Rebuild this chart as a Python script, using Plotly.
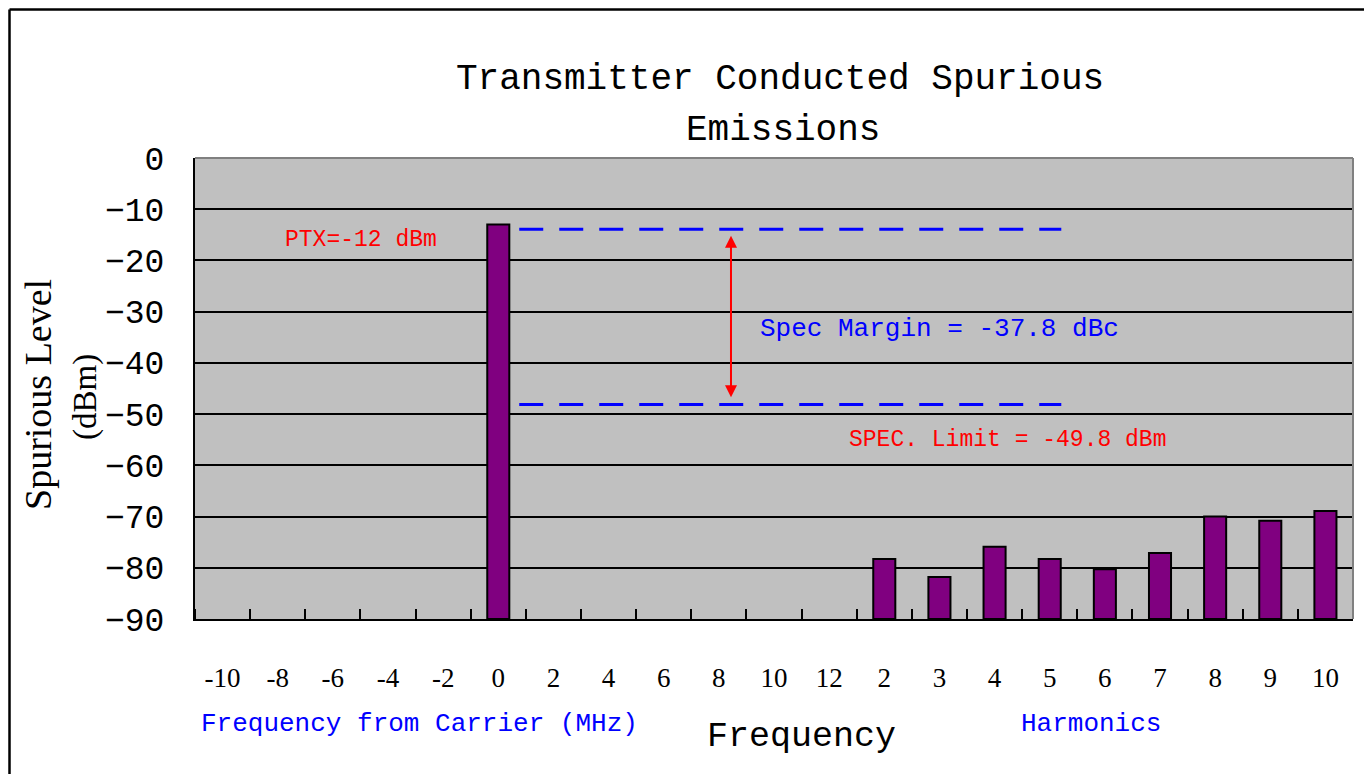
import plotly.graph_objects as go

# ---- data ----
tick_labels = ["-10", "-8", "-6", "-4", "-2", "0", "2", "4", "6", "8", "10", "12",
               "2", "3", "4", "5", "6", "7", "8", "9", "10"]
spur_dbm = [None, None, None, None, None, -13.0, None, None, None, None, None, None,
            -78.3, -81.8, -75.9, -78.3, -80.3, -77.1, -70.0, -70.8, -68.9]
y_ticks = [0, -10, -20, -30, -40, -50, -60, -70, -80, -90]
Y_MIN, Y_MAX = -90, 0
carrier_level = -13.9      # upper dashed reference line
spec_limit_line = -48.1    # lower dashed reference line

x_idx = list(range(len(tick_labels)))
heights = [None if v is None else v - Y_MIN for v in spur_dbm]

MONO = "Liberation Mono"
SERIF = "Liberation Serif"

# page offset of the figure (default body margin) compensated in margins
OFF = 8
PL, PR, PT, PB = 195, 1353, 158, 619   # plot area in page pixels
PW, PH = PR - PL, PB - PT

def px(x):
    return (x - PL) / PW

def py(y):
    return (PB - y) / PH

fig = go.Figure()
fig.add_trace(go.Bar(
    x=x_idx, y=heights, base=Y_MIN, width=0.4,
    marker=dict(color="#800080", line=dict(color="black", width=2)),
    showlegend=False, hoverinfo="skip",
))

# dashed reference lines
for lvl in (carrier_level, spec_limit_line):
    fig.add_trace(go.Scatter(
        x=[5.38, 15.21], y=[lvl, lvl], mode="lines",
        line=dict(color="#0000FF", width=3, dash="24px,16px"),
        showlegend=False, hoverinfo="skip",
    ))

B = OFF + 1.5
shapes = [
    dict(type="line", xref="paper", yref="paper", x0=0, x1=1, y0=1, y1=1,
         line=dict(color="#808080", width=2), layer="above"),
    dict(type="line", xref="paper", yref="paper", x0=1, x1=1, y0=0, y1=1,
         line=dict(color="#808080", width=2), layer="above"),
    # outer chart frame (left and top edges visible)
    dict(type="line", xref="paper", yref="paper", x0=px(B), x1=px(B), y0=py(B), y1=py(800),
         line=dict(color="black", width=2.5), layer="above"),
    dict(type="line", xref="paper", yref="paper", x0=px(B), x1=px(1380), y0=py(B), y1=py(B),
         line=dict(color="black", width=2.5), layer="above"),
]

annotations = [
    dict(text="Transmitter Conducted Spurious", xref="paper", yref="paper", x=px(780), y=py(80),
         showarrow=False, font=dict(family=MONO, size=36, color="black"), xanchor="center", yanchor="middle"),
    dict(text="Emissions", xref="paper", yref="paper", x=px(783), y=py(131),
         showarrow=False, font=dict(family=MONO, size=36, color="black"), xanchor="center", yanchor="middle"),
    dict(text="Spurious Level", xref="paper", yref="paper", x=px(38), y=py(395),
         textangle=-90, showarrow=False, font=dict(family=SERIF, size=38, color="black"),
         xanchor="center", yanchor="middle"),
    dict(text="(dBm)", xref="paper", yref="paper", x=px(85), y=py(397),
         textangle=-90, showarrow=False, font=dict(family=SERIF, size=33, color="black"),
         xanchor="center", yanchor="middle"),
    dict(text="Frequency", xref="paper", yref="paper", x=px(801), y=py(737),
         showarrow=False, font=dict(family=MONO, size=35, color="black"), xanchor="center", yanchor="middle"),
    dict(text="Frequency from Carrier (MHz)", xref="paper", yref="paper", x=px(419), y=py(724),
         showarrow=False, font=dict(family=MONO, size=26, color="#0000FF"), xanchor="center", yanchor="middle"),
    dict(text="Harmonics", xref="paper", yref="paper", x=px(1091), y=py(724),
         showarrow=False, font=dict(family=MONO, size=26, color="#0000FF"), xanchor="center", yanchor="middle"),
    dict(text="PTX=-12 dBm", x=2.51, y=-16.0, showarrow=False,
         font=dict(family=MONO, size=23, color="#FF0000"), xanchor="center", yanchor="middle"),
    dict(text="Spec Margin = -37.8 dBc", x=13.0, y=-33.4, showarrow=False,
         font=dict(family=MONO, size=26, color="#0000FF"), xanchor="center", yanchor="middle"),
    dict(text="SPEC. Limit = -49.8 dBm", x=14.24, y=-55.1, showarrow=False,
         font=dict(family=MONO, size=23, color="#FF0000"), xanchor="center", yanchor="middle"),
    dict(x=9.22, y=-15.2, ax=9.22, ay=-47.0, xref="x", yref="y", axref="x", ayref="y",
         text="", showarrow=True, arrowhead=2, startarrowhead=2, arrowside="end+start",
         arrowsize=1.2, arrowwidth=2, arrowcolor="#FF0000"),
]

# figure sized so the page (with its 8px body margin) does not overflow the window
W, H = 1372 - 2 * OFF, 782 - 2 * OFF
fig.update_layout(
    width=W, height=H,
    margin=dict(l=PL - OFF, r=W - (PR - OFF), t=PT - OFF, b=H - (PB - OFF), pad=0),
    paper_bgcolor="white", plot_bgcolor="#C0C0C0",
    shapes=shapes, annotations=annotations,
)
fig.update_xaxes(
    range=[-0.5, len(tick_labels) - 0.5],
    tickmode="array", tickvals=x_idx, ticktext=tick_labels,
    ticks="", showgrid=False, zeroline=False,
    showline=True, linecolor="black", linewidth=2,
    tickfont=dict(family=SERIF, size=27, color="black"),
    ticklabelstandoff=34,
    minor=dict(tickmode="linear", tick0=-0.5, dtick=1, ticks="inside", ticklen=10,
               tickcolor="black", tickwidth=2, showgrid=False),
)
fig.update_yaxes(
    range=[Y_MIN, Y_MAX], tickmode="array", tickvals=y_ticks,
    showgrid=True, gridcolor="black", gridwidth=1.6, zeroline=False,
    showline=True, linecolor="black", linewidth=2, ticks="",
    tickfont=dict(family=MONO, size=33, color="black"),
    ticklabelstandoff=22,
)

fig.write_html("out.html")
